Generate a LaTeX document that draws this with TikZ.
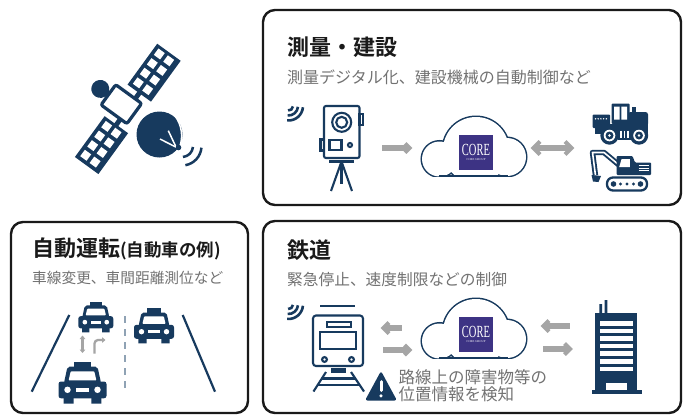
\documentclass[tikz,border=0pt]{standalone}
\usepackage{fontspec}
\usepackage{graphicx}
\setmainfont{Noto Sans CJK JP}[BoldFont={Noto Sans CJK JP Bold}]
\newfontfamily\logofont{Liberation Serif}
\usetikzlibrary{arrows.meta}

\definecolor{navy}{HTML}{173A5E}
\definecolor{titleblack}{HTML}{1A1A1A}
\definecolor{subgrey}{HTML}{727272}
\definecolor{arrowgrey}{HTML}{A5A5A5}
\definecolor{coreviolet}{HTML}{3D3384}
\definecolor{lanegrey}{HTML}{8FA2B4}

% grey block arrows: start, tip, y, half height of the head
\newcommand\arrowR[4]{%
  \draw[arrowgrey, line width=5.5pt] (#1,#3) -- ({#2-3},#3);
  \draw[arrowgrey, line width=4.2pt, line join=miter] ({#2-1.5-#4},{#3-#4}) -- ({#2-1.5},#3) -- ({#2-1.5-#4},{#3+#4});}
\newcommand\arrowL[4]{%
  \draw[arrowgrey, line width=5.5pt] ({#1+3},#3) -- (#2,#3);
  \draw[arrowgrey, line width=4.2pt, line join=miter] ({#1+1.5+#4},{#3-#4}) -- ({#1+1.5},#3) -- ({#1+1.5+#4},{#3+#4});}
\newcommand\arrowLR[4]{%
  \draw[arrowgrey, line width=5.5pt] ({#1+3},#3) -- ({#2-3},#3);
  \draw[arrowgrey, line width=4.2pt, line join=miter] ({#1+1.5+#4},{#3-#4}) -- ({#1+1.5},#3) -- ({#1+1.5+#4},{#3+#4});
  \draw[arrowgrey, line width=4.2pt, line join=miter] ({#2-1.5-#4},{#3-#4}) -- ({#2-1.5},#3) -- ({#2-1.5-#4},{#3+#4});}

% radio waves from a corner point
\newcommand\wifiwaves[2]{%
  \foreach \r in {4.5,9.5,14.5}
    \draw[navy, line width=2.6pt] ([shift={(5:\r)}]#1,#2) arc[start angle=5, end angle=95, radius=\r];}

% cloud with the CORE logo, shifted down by #1
\newcommand\cloudlogo[2]{%
  \begin{scope}[shift={(0,#1)}]
    \begin{scope}
      \clip (400,100) rectangle (540,176);
      \draw[navy, line width=3pt] (439.5,159) circle[radius=17.5] (476,150) circle[radius=33] (507,157) circle[radius=19];
      \fill[white] (439.5,159) circle[radius=17.5] (476,150) circle[radius=33] (507,157) circle[radius=19];
    \end{scope}
    \draw[navy, line width=1.5pt] (439,176) -- (508,176);
    \fill[coreviolet] (459.3,135) rectangle (492.7,170);
    \node[text=white, font=\logofont\fontsize{17}{17}\selectfont, inner sep=0pt] (#2core) at (476,150.3) {\scalebox{0.62}[1]{CORE}};
    \node[text=white, font=\logofont\fontsize{3}{3}\selectfont, inner sep=0pt] (#2group) at (476,159.8) {CORE GROUP};
  \end{scope}}

% taxi seen from the front: top centre x, y, scale
\newcommand\taxicab[3]{%
  \begin{scope}[shift={(#1,#2)}, scale=#3]
    \fill[navy] (-6.7,0) rectangle (6.7,4.8);
    \fill[navy, rounded corners=2pt] (-12.5,4.2) -- (12.5,4.2) -- (15.5,18) -- (-15.5,18) -- cycle;
    \fill[navy, rounded corners=2.5pt] (-20,16.5) rectangle (20,30.5);
    \fill[white, rounded corners=0.8pt] (-9.8,8) -- (9.8,8) -- (11.6,15.6) -- (-11.6,15.6) -- cycle;
    \fill[white] (-12.5,23.4) circle[radius=2.7] (12.5,23.4) circle[radius=2.7];
    \fill[white] (-5.7,22) rectangle (5.7,25);
    \fill[navy] (-15.7,30) rectangle (-7.3,35) (7.3,30) rectangle (15.7,35);
  \end{scope}}

\begin{document}
\begin{tikzpicture}[x=1pt, y=-1pt,
  panelbox/.style={draw=titleblack, line width=2.4pt, rounded corners=12pt},
  heading/.style={anchor=base west, inner sep=0pt, text=titleblack, font=\fontsize{22}{26}\selectfont\bfseries},
  subheading/.style={anchor=base west, inner sep=0pt, text=subgrey},
  iconline/.style={draw=navy, line width=2.1pt},
]
\useasboundingbox[fill=white] (0,0) rectangle (697,418);

% ---------- frames ----------
\draw[panelbox] (263,10) rectangle (681,205);
\draw[panelbox] (11,222) rectangle (248,413);
\draw[panelbox] (263,221) rectangle (681,413);

% ---------- headings ----------
\node[heading] (survey) at (287,55) {測量・建設};
\node[subheading, font=\fontsize{16}{18}\selectfont] (surveysub) at (287,83) {測量デジタル化、建設機械の自動制御など};
\node[heading] (auto) at (32,256) {自動運転{\fontsize{17.5}{20}\selectfont(自動車の例)}};
\node[subheading, font=\fontsize{14.7}{17}\selectfont] (autosub) at (32,283) {車線変更、車間距離測位など};
\node[heading] (rail) at (287,258) {鉄道};
\node[subheading, font=\fontsize{15.7}{18}\selectfont] (railsub) at (287,285) {緊急停止、速度制限などの制御};

% ---------- satellite ----------
\begin{scope}[shift={(127.8,108.9)}, rotate=54]
  \fill[navy] (19.5,-14.5) rectangle (70,14.5);
  \fill[navy] (-70,-14.5) rectangle (-19.5,14.5);
  \foreach \i in {0,...,3} \foreach \j in {0,1} {
    \fill[white] ({23.3+\i*11.9},{-10.7+\j*11.6}) rectangle ++(7.9,7.8);
    \fill[white] ({-66.2+\i*11.9},{-10.7+\j*11.6}) rectangle ++(7.9,7.8);
  }
  \fill[navy] (12,-2.4) rectangle (20,2.4);
  \fill[navy] (-20,-2.4) rectangle (-12,2.4);
  \draw[navy, line width=3.2pt, fill=white, rounded corners=2pt] (-12.5,-24) rectangle (12.5,8);
  \fill[navy] (-3,-28) rectangle (3,-24);
  \fill[navy] (0,-34) circle[radius=9];
\end{scope}
% dish
\fill[navy] (159.5,134.5) circle[radius=23];
\draw[white, line width=1.5pt] (160,139) -- (178.3,148.3);
\draw[white, line width=1.5pt] (168.3,130.7) -- (176,147);
\draw[white, line width=1.5pt] (175,116) .. controls (182,125) and (183,137) .. (180,146);
\fill[navy] (178.5,147.5) circle[radius=2.8];
\foreach \r/\e in {11/85, 19.5/80}
  \draw[navy, line width=2.5pt] ([shift={(5:\r)}]182,146) arc[start angle=5, end angle=\e, radius=\r];

% ---------- survey row ----------
\wifiwaves{288.5}{106}
% total station
\draw[iconline, rounded corners=2pt] (324,106) rectangle (359.5,158);
\draw[iconline] (341.7,122.3) circle[radius=9.5];
\draw[iconline] (341.7,122.3) circle[radius=5.5];
\draw[iconline] (359.5,114) rectangle (363,125);
\draw[iconline] (320.5,139.5) rectangle (324,150.5);
\draw[iconline] (329.5,140) rectangle (341.5,150);
\draw[iconline] (350,145) circle[radius=2];
\draw[iconline] (329,161.5) -- (353.5,161.5);
\draw[iconline] (341.5,161.5) -- (331,191);
\draw[iconline] (341.5,161.5) -- (352,191);
\draw[iconline] (341.5,161.5) -- (341.5,184);

\arrowR{382}{411}{148}{4.5}
\cloudlogo{0}{top}
\arrowLR{532}{573}{148}{6.5}

% wheel loader
\fill[navy, rounded corners=1pt] (592.5,114.5) rectangle (610,128);
\foreach \x in {595.5,598.2,...,608} \fill[white] (\x,118.8) circle[radius=0.8];
\fill[navy] (595,123.5) rectangle (648,133.5);
\fill[navy, rounded corners=2.5pt] (628,112) rectangle (648,126);
\fill[navy, rounded corners=1pt] (611.5,103.5) rectangle (629.5,124);
\fill[white] (614,106.5) rectangle (619.6,119.5) (621.4,106.5) rectangle (627,119.5);
\fill[navy] (632,106.5) rectangle (635.5,113);
\fill[navy] (617.5,127.5) rectangle (631.5,140);
\foreach \x in {621,624.5,628} \draw[white, line width=1.1pt] (\x,130.5) -- (\x,137.5);
\foreach \cx in {609.5,639} {
  \fill[navy] (\cx,135.5) circle[radius=9.2];
  \fill[white] (\cx,135.5) circle[radius=5.8];
  \fill[navy] (\cx,135.5) circle[radius=4];
  \fill[white] (\cx,135.5) circle[radius=1.4];
}

% excavator
\draw[navy, double=white, double distance=1.6pt, line width=1.9pt, line join=round] (595.5,175.5) -- (592.5,152.5) -- (604,152.5) -- (619,165);
\fill[navy] (591.5,175) -- (601,176) -- (598.5,182) -- (593,181.5) -- cycle;
\fill[navy, rounded corners=1pt] (616.5,156) -- (632.5,156) -- (635,162.5) -- (651,162.5) -- (651,175) -- (616.5,175) -- cycle;
\fill[white] (619.2,167) -- (621.6,159) -- (629.8,159) -- (629.8,167) -- cycle;
\foreach \y in {165.5,168.2,170.9} \draw[white, line width=0.9pt] (638.5,\y) -- (649,\y);
\draw[navy, line width=2.3pt, rounded corners=6pt] (607,177.5) rectangle (647,190.5);
\fill[navy] (613.5,184) circle[radius=2.8] (640.5,184) circle[radius=2.8];
\foreach \x in {620.5,627,633.5} \fill[navy] (\x,184) circle[radius=1.6];

% ---------- road ----------
\draw[navy, line width=2.2pt] (69.3,315) -- (31.7,391.7);
\draw[navy, line width=2.2pt] (182.7,315) -- (215,391.7);
\draw[lanegrey, line width=2.5pt, dash pattern=on 7pt off 6pt] (125,316) -- (125,394);
\taxicab{95.8}{301.7}{0.875}
\taxicab{154}{308.3}{1}
\taxicab{82.5}{361.7}{1.2}
\draw[arrowgrey, line width=2.3pt, {Triangle[length=3.5pt,width=5.5pt]}-{Triangle[length=3.5pt,width=5.5pt]}] (82.5,335.5) -- (82.5,353);
\draw[arrowgrey, line width=2.3pt, rounded corners=3.5pt, -{Triangle[length=3.5pt,width=5.5pt]}] (94.5,353.5) -- (94.5,340) -- (105.5,340);

% ---------- railway row ----------
\wifiwaves{288.5}{304.5}
% train
\draw[iconline] (320,306) -- (355,306);
\draw[iconline, rounded corners=3pt] (313,315.5) rectangle (363,366);
\draw[iconline] (326.7,321.7) rectangle (350.7,327.3);
\draw[iconline] (320,332.3) rectangle (356,349.3);
\draw[iconline] (324.5,359.5) circle[radius=2.4] (351.5,359.5) circle[radius=2.4];
\fill[navy] (330.5,368) rectangle (346,372.5);
\draw[iconline] (326,372) -- (313.5,391.5);
\draw[iconline] (351,372) -- (364,391.5);
\draw[iconline] (322,378.5) -- (355,378.5);
\draw[iconline] (318,385) -- (359,385);
% warning sign
\fill[navy, rounded corners=2.5pt] (381,371) -- (397,400.5) -- (365,400.5) -- cycle;
\draw[white, line width=3pt, line cap=round] (381,381.5) -- (381,390.5);
\fill[white] (381,395.8) circle[radius=1.7];

\arrowL{382}{402}{328}{5.5}
\arrowR{383}{411}{350}{5}
\cloudlogo{182}{bottom}
\arrowL{542}{570}{326}{5.5}
\arrowR{543}{571.5}{349}{5.5}

\node[subheading, font=\fontsize{16.5}{19}\selectfont] (obstacle) at (398.5,383.5) {路線上の障害物等の};
\node[subheading, font=\fontsize{16.5}{19}\selectfont] (position) at (398.5,400) {位置情報を検知};

% control centre building
\fill[navy] (599.3,304) rectangle (602,314) (604.7,300) rectangle (607.3,314);
\fill[navy] (595,313.3) rectangle (636.7,390.5);
\fill[navy] (591.7,390) rectangle (641.7,394);
\foreach \k in {0,...,6} \fill[white] (600,{321+\k*7.6}) rectangle (632.7,{325.5+\k*7.6});
\fill[white] (606,383) rectangle (626.7,390);
\end{tikzpicture}
\end{document}
